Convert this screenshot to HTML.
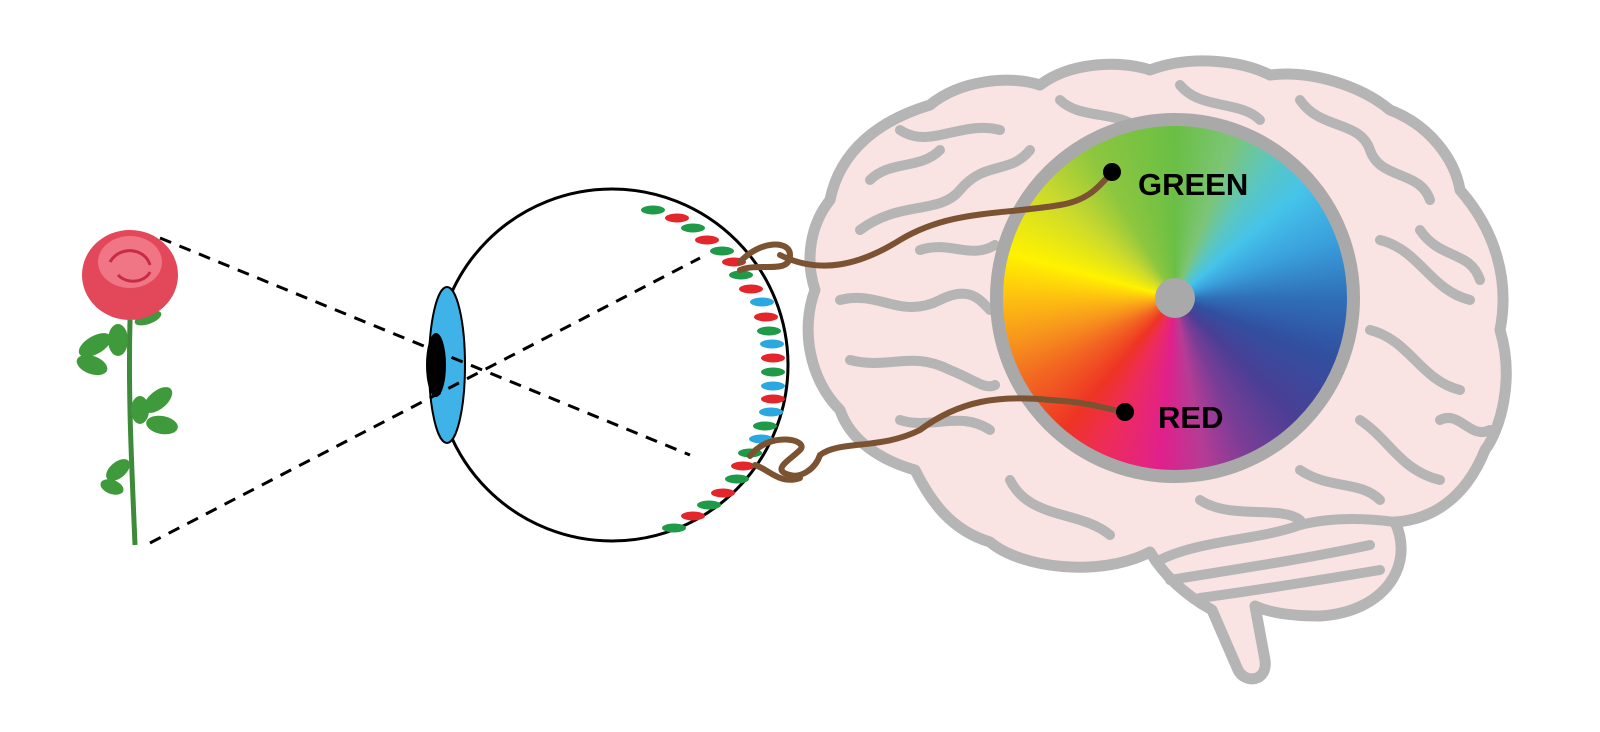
<!DOCTYPE html>
<html><head><style>
html,body{margin:0;padding:0;background:#fff;}
svg{display:block;}
text{font-family:"Liberation Sans",sans-serif;font-weight:bold;}
</style></head><body>
<svg width="1600" height="732" viewBox="0 0 1600 732" xmlns="http://www.w3.org/2000/svg">
<!-- brain -->
<g stroke="#b5b5b5" stroke-width="11" fill="#fae3e3" stroke-linejoin="round" stroke-linecap="round">
<path d="M830,200 C840,150 880,120 930,105 C960,80 1010,75 1040,85 C1070,62 1120,60 1150,70 C1190,55 1240,60 1270,75 C1310,70 1360,85 1390,110 C1430,125 1455,160 1460,190 C1495,230 1510,280 1500,330 C1515,380 1500,430 1485,450 C1465,500 1430,520 1395,522 C1415,565 1385,612 1320,616 C1290,616 1268,612 1255,606 L1265,660 C1268,682 1245,684 1238,670 L1212,610 C1180,592 1162,572 1150,552 C1100,578 1020,568 990,542 C950,530 930,500 915,470 C880,460 850,440 840,410 C810,380 800,330 815,290 C805,260 810,225 830,200 Z"/>
</g>
<g stroke="#b5b5b5" stroke-width="10" fill="none" stroke-linecap="round" stroke-linejoin="round">
<path d="M1160,560 C1200,540 1260,540 1300,525 C1340,515 1380,520 1395,522"/>
<path d="M1170,580 C1230,570 1300,560 1370,545"/>
<path d="M1200,598 C1260,590 1320,580 1380,570"/>
<path d="M860,230 C900,200 940,215 960,190 C985,160 1010,175 1030,150"/>
<path d="M900,130 C930,150 960,120 1000,130"/>
<path d="M1060,100 C1080,120 1120,110 1140,130"/>
<path d="M1180,85 C1200,110 1240,100 1260,120"/>
<path d="M1300,100 C1320,130 1360,120 1370,150 C1380,180 1420,170 1430,200"/>
<path d="M1380,240 C1420,250 1430,290 1470,300"/>
<path d="M1370,330 C1410,340 1420,380 1460,390"/>
<path d="M1360,420 C1390,440 1400,470 1440,480"/>
<path d="M840,300 C880,290 900,320 940,300 C970,285 980,300 990,310"/>
<path d="M850,360 C890,370 910,350 950,370 C975,380 985,390 995,385"/>
<path d="M900,420 C930,430 960,410 990,430"/>
<path d="M1010,480 C1030,520 1080,510 1110,535"/>
<path d="M1200,500 C1230,520 1280,505 1300,520"/>
<path d="M1300,470 C1330,490 1360,480 1380,500"/>
<path d="M920,250 C950,240 970,260 995,245"/>
<path d="M870,180 C890,160 920,170 940,150"/>
<path d="M1420,230 C1440,260 1470,250 1480,280"/>
<path d="M1440,420 C1460,410 1470,440 1490,430"/>
</g>
<!-- color wheel -->
<foreignObject x="990" y="113" width="370" height="370">
<div style="width:370px;height:370px;border-radius:50%;box-sizing:border-box;border:13px solid #a9a9a9;background:conic-gradient(from 0deg,#6abf45 0deg,#7cc576 20deg,#5bc6c0 35deg,#45c3ea 50deg,#3a9fdc 70deg,#2f6fb8 90deg,#3150a0 110deg,#4a3f95 135deg,#7a3d96 155deg,#b53c95 170deg,#e0208c 185deg,#ee2c5a 205deg,#ee3424 220deg,#f26522 240deg,#f7941d 255deg,#fdc010 270deg,#fff200 285deg,#c9d92e 310deg,#8dc63f 330deg,#6abf45 360deg);position:relative;">
<div style="position:absolute;left:152px;top:152px;width:40px;height:40px;border-radius:50%;background:#a9a9a9;"></div>
</div>
</foreignObject>
<!-- rose -->
<path d="M130,320 C128,400 132,470 135,545" stroke="#3d8b3a" stroke-width="5" fill="none"/>
<g fill="#3e9a3a">
<ellipse cx="95" cy="345" rx="18" ry="9" transform="rotate(-30 95 345)"/>
<ellipse cx="92" cy="365" rx="16" ry="9" transform="rotate(20 92 365)"/>
<ellipse cx="118" cy="340" rx="10" ry="16"/>
<ellipse cx="158" cy="400" rx="17" ry="9" transform="rotate(-40 158 400)"/>
<ellipse cx="162" cy="425" rx="16" ry="9" transform="rotate(10 162 425)"/>
<ellipse cx="140" cy="410" rx="9" ry="14"/>
<ellipse cx="118" cy="470" rx="14" ry="8" transform="rotate(-40 118 470)"/>
<ellipse cx="112" cy="487" rx="12" ry="7" transform="rotate(20 112 487)"/>
<ellipse cx="148" cy="318" rx="14" ry="6" transform="rotate(-20 148 318)"/>
</g>
<ellipse cx="130" cy="275" rx="48" ry="45" fill="#e2485a"/>
<ellipse cx="130" cy="262" rx="32" ry="26" fill="#f07585"/>
<path d="M110,262 C120,245 145,248 150,265 M118,275 C128,285 145,282 150,272" stroke="#c62c42" stroke-width="3" fill="none"/>
<!-- eye -->
<circle cx="612" cy="365" r="176" fill="#fff" stroke="#000" stroke-width="3"/>
<ellipse cx="447" cy="365" rx="18" ry="78" fill="#3fb2e8" stroke="#000" stroke-width="2"/>
<ellipse cx="436" cy="365" rx="10" ry="32" fill="#000"/>
<!-- dashed rays -->
<g stroke="#000" stroke-width="3" stroke-dasharray="12,9" fill="none">
<line x1="160" y1="238" x2="690" y2="455"/>
<line x1="150" y1="543" x2="700" y2="258"/>
</g>
<!-- receptors -->
<g>
<ellipse cx="653" cy="210" rx="12" ry="4.5" fill="#1f9a48"/>
<ellipse cx="677" cy="218" rx="12" ry="4.5" fill="#e2262b"/>
<ellipse cx="693" cy="228" rx="12" ry="4.5" fill="#1f9a48"/>
<ellipse cx="707" cy="240" rx="12" ry="4.5" fill="#e2262b"/>
<ellipse cx="722" cy="251" rx="12" ry="4.5" fill="#1f9a48"/>
<ellipse cx="734" cy="262" rx="12" ry="4.5" fill="#e2262b"/>
<ellipse cx="741" cy="275" rx="12" ry="4.5" fill="#1f9a48"/>
<ellipse cx="751" cy="289" rx="12" ry="4.5" fill="#e2262b"/>
<ellipse cx="762" cy="302" rx="12" ry="4.5" fill="#2ba8e0"/>
<ellipse cx="766" cy="317" rx="12" ry="4.5" fill="#e2262b"/>
<ellipse cx="769" cy="331" rx="12" ry="4.5" fill="#1f9a48"/>
<ellipse cx="772" cy="344" rx="12" ry="4.5" fill="#2ba8e0"/>
<ellipse cx="773" cy="358" rx="12" ry="4.5" fill="#e2262b"/>
<ellipse cx="773" cy="372" rx="12" ry="4.5" fill="#1f9a48"/>
<ellipse cx="773" cy="386" rx="12" ry="4.5" fill="#2ba8e0"/>
<ellipse cx="773" cy="399" rx="12" ry="4.5" fill="#e2262b"/>
<ellipse cx="771" cy="412" rx="12" ry="4.5" fill="#2ba8e0"/>
<ellipse cx="765" cy="426" rx="12" ry="4.5" fill="#1f9a48"/>
<ellipse cx="761" cy="439" rx="12" ry="4.5" fill="#2ba8e0"/>
<ellipse cx="750" cy="453" rx="12" ry="4.5" fill="#1f9a48"/>
<ellipse cx="743" cy="466" rx="12" ry="4.5" fill="#e2262b"/>
<ellipse cx="737" cy="479" rx="12" ry="4.5" fill="#1f9a48"/>
<ellipse cx="723" cy="493" rx="12" ry="4.5" fill="#e2262b"/>
<ellipse cx="709" cy="505" rx="12" ry="4.5" fill="#1f9a48"/>
<ellipse cx="693" cy="516" rx="12" ry="4.5" fill="#e2262b"/>
<ellipse cx="674" cy="528" rx="12" ry="4.5" fill="#1f9a48"/>
</g>
<!-- nerves -->
<g stroke="#7b5332" stroke-width="6" fill="none" stroke-linecap="round">
<path d="M740,262 C760,240 790,240 790,255 C790,275 760,262 740,270"/>
<path d="M780,255 C820,275 860,265 900,240 C950,210 1000,215 1060,205 C1090,200 1100,185 1112,172"/>
<path d="M750,456 C770,430 810,440 800,450 C790,460 770,470 790,475 C800,478 815,470 820,455 C840,440 880,450 920,430 C960,400 1000,395 1050,400 C1090,402 1110,410 1125,412"/>
<path d="M755,465 C770,470 780,485 800,478"/>
</g>
<circle cx="1112" cy="172" r="9" fill="#000"/>
<circle cx="1125" cy="412" r="9" fill="#000"/>
<text x="1138" y="195" font-size="31" fill="#000">GREEN</text>
<text x="1158" y="428" font-size="31" fill="#000">RED</text>
</svg>
</body></html>
